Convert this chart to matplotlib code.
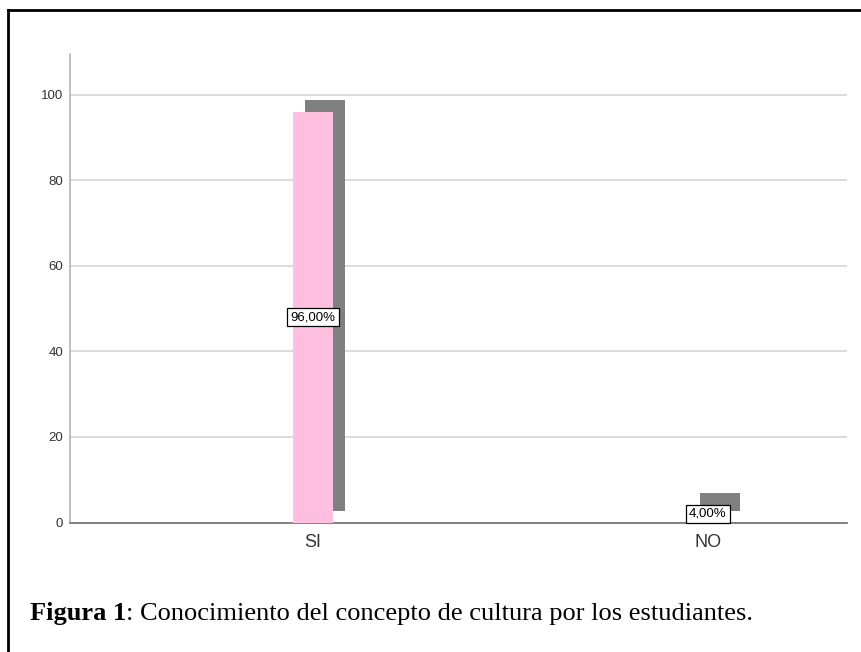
import matplotlib
matplotlib.use("Agg")
import matplotlib.pyplot as plt
import matplotlib.transforms as mtransforms
from matplotlib.lines import Line2D

categories = ["SI", "NO"]
percentages = [96.0, 4.0]
value_labels = ["96,00%", "4,00%"]
yticks = [0, 20, 40, 60, 80, 100]

fig = plt.figure(figsize=(8.62, 6.52), dpi=100)
ax = fig.add_axes([70 / 862, 1 - 522.5 / 652, 777 / 862, 468.5 / 652])

x = list(range(len(categories)))

# drop shadow: same bars shifted right/up by a few pixels
shadow = mtransforms.offset_copy(ax.transData, fig=fig, x=12, y=12, units="dots")
ax.bar(x, percentages, width=0.102, color="#808080", transform=shadow, zorder=2)
ax.bar(x, percentages, width=0.102, color="#FFC0E0", zorder=3)

for xi, v, lab in zip(x, percentages, value_labels):
    ax.text(xi, v / 2, lab, ha="center", va="center", fontsize=9.5,
            family="Liberation Sans", zorder=5,
            bbox=dict(boxstyle="square,pad=0.25", fc="white", ec="black", lw=0.9))

ax.set_xlim(-0.615, 1.352)
ax.set_ylim(0, 109.5)
ax.set_xticks(x)
ax.set_xticklabels(categories, fontsize=13, family="Liberation Sans", color="#333333")
ax.set_yticks(yticks)
ax.set_yticklabels([str(t) for t in yticks], fontsize=9.5, family="Liberation Sans", color="#333333")
ax.tick_params(axis="y", length=0, pad=5)
ax.tick_params(axis="x", length=0, pad=8)

ax.yaxis.grid(True, color="#d4d4d4", lw=1.2, zorder=0)
ax.set_axisbelow(True)
for side in ["top", "right"]:
    ax.spines[side].set_visible(False)
ax.spines["left"].set_color("#b4b4b4")
ax.spines["left"].set_linewidth(1.2)
ax.spines["bottom"].set_color("#707070")
ax.spines["bottom"].set_linewidth(1.2)

# page frame
fig.add_artist(Line2D([8 / 862, 8 / 862], [0, 1 - 10 / 652], color="black", lw=2))
fig.add_artist(Line2D([8 / 862, 1], [1 - 10 / 652, 1 - 10 / 652], color="black", lw=2))

# caption: bold figure number followed by regular text
t1 = fig.text(30 / 862, 1 - 625 / 652, "Figura 1", fontsize=19, fontweight="bold",
              family="Liberation Serif", va="bottom")
ax.annotate(": Conocimiento del concepto de cultura por los estudiantes.",
            xy=(1, 0), xycoords=t1, va="bottom", ha="left", fontsize=19,
            family="Liberation Serif", annotation_clip=False)

fig.savefig("out.png", dpi=100)
